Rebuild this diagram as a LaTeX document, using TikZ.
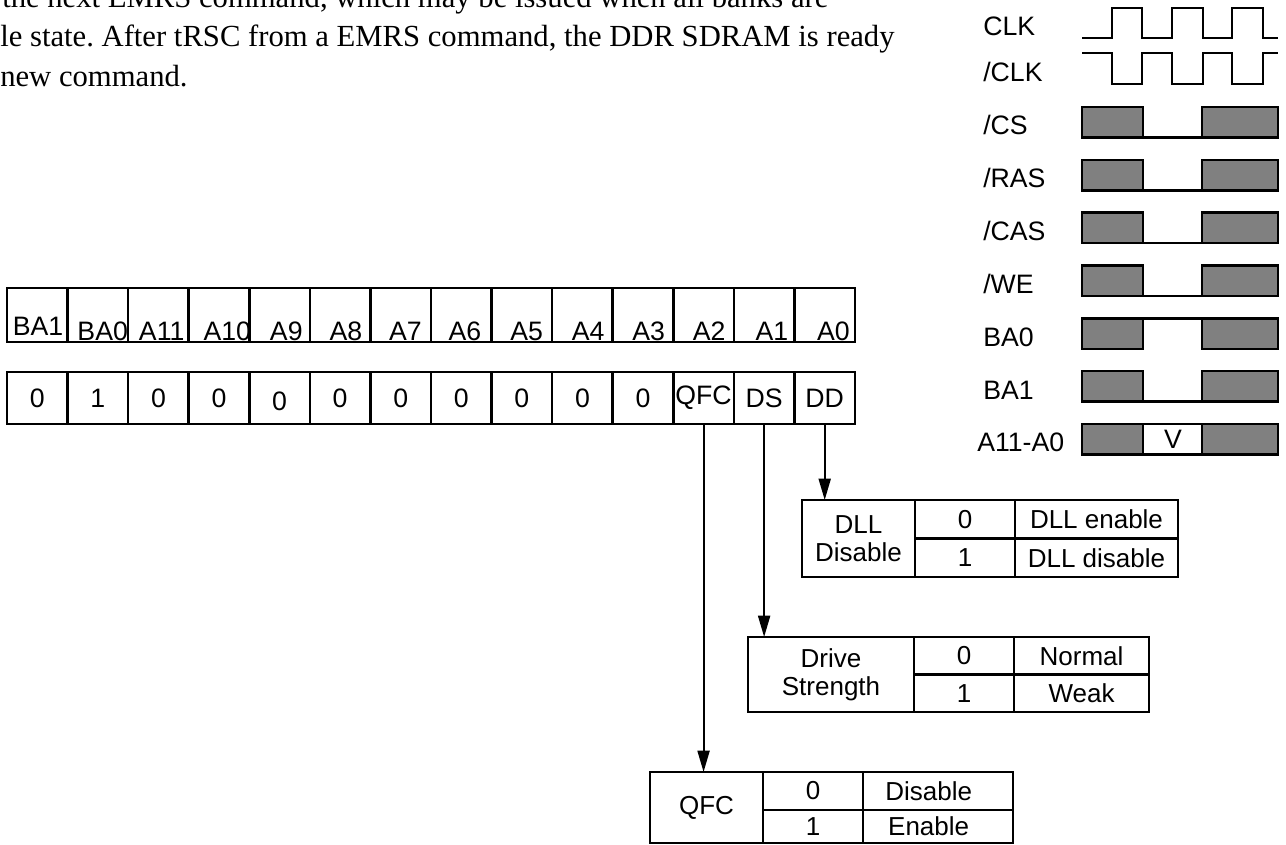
\documentclass[tikz,border=0pt]{standalone}
\usepackage{fontspec}
\setmainfont{Liberation Serif}
\newfontfamily\arialf{Liberation Sans}
\usetikzlibrary{positioning,arrows.meta}
\frenchspacing

\begin{document}
\begin{tikzpicture}[
  x=0.75pt, y=-0.75pt,
  lbl/.style={font=\arialf\fontsize{20}{22}\selectfont, inner sep=0pt},
  cell/.style={draw, line width=1.9pt, outer sep=0pt, inner sep=0pt,
    minimum width=60.57*0.75pt},
  tcell/.style={draw, line width=1.9pt, outer sep=0pt, inner sep=0pt,
    anchor=north west, align=center,
    font=\arialf\fontsize{19.5}{21}\selectfont},
  busy/.style={draw, line width=1.9pt, fill=gray},
  wave/.style={line width=1.8pt},
  arr/.style={-{Triangle[length=16pt,width=9pt]}, line width=1.5pt},
  para/.style={font=\fontsize{23}{30}\selectfont, inner sep=0pt,
    anchor=base west}
]
\useasboundingbox (0,0) rectangle (1286,845);
\clip (0,0) rectangle (1286,845);

% Text above
\node[para] (txt1) at (2,8) {the next EMRS command, which may be issued when all banks are};
\node[para] (txt2) at (0,47) {le state. After tRSC from a EMRS command, the DDR SDRAM is ready};
\node[para] (txt3) at (0,87) {new command.};

% Register bits (top row)
\foreach \i/\lab/\gap/\yb in {1/BA1/4/335, 2/BA0/0/340, 3/A11/4/340,
  4/A10/-2/340, 5/A9/7/340, 6/A8/8/340, 7/A7/9/340, 8/A6/10/340,
  9/A5/9/340, 10/A4/8/340, 11/A3/8/340, 12/A2/8/340, 13/A1/6/340,
  14/A0/5/340} {
  \node[cell, minimum height=54*0.75pt] (t\i) at ({7+60.57*(\i-0.5)},315) {};
  \node[lbl, anchor=base east] (tl\i) at ({7+60.57*\i-\gap},\yb) {\lab};
}

% Register values (bottom row)
\foreach \i/\val/\dy in {1/0/0, 2/1/0, 3/0/0, 4/0/0, 5/0/-2.25, 6/0/0,
  7/0/0, 8/0/0, 9/0/0, 10/0/0, 11/0/0, 12/QFC/0, 13/DS/0, 14/DD/0} {
  \node[cell, minimum height=52*0.75pt] (b\i) at ({7+60.57*(\i-0.5)},398) {};
  \node[lbl] (bv\i) at ([yshift=\dy pt]b\i.center) {\val};
}

% DLL table
\node[tcell, minimum width=113*0.75pt, minimum height=77*0.75pt]
  (dll0) at (802,500) {DLL\\Disable};
\node[tcell, minimum width=100*0.75pt, minimum height=38.5*0.75pt]
  (dll1) at (dll0.north east) {0};
\node[tcell, minimum width=163*0.75pt, minimum height=38.5*0.75pt]
  (dll2) at (dll1.north east) {DLL enable};
\node[tcell, minimum width=100*0.75pt, minimum height=38.5*0.75pt]
  (dll3) at (dll1.south west) {1};
\node[tcell, minimum width=163*0.75pt, minimum height=38.5*0.75pt]
  (dll4) at (dll3.north east) {DLL disable};

% Drive strength table
\node[tcell, minimum width=166*0.75pt, minimum height=75*0.75pt]
  (drv0) at (748,637) {Drive\\Strength};
\node[tcell, minimum width=100*0.75pt, minimum height=37.5*0.75pt]
  (drv1) at (drv0.north east) {0};
\node[tcell, minimum width=135*0.75pt, minimum height=37.5*0.75pt]
  (drv2) at (drv1.north east) {Normal};
\node[tcell, minimum width=100*0.75pt, minimum height=37.5*0.75pt]
  (drv3) at (drv1.south west) {1};
\node[tcell, minimum width=135*0.75pt, minimum height=37.5*0.75pt]
  (drv4) at (drv3.north east) {Weak};

% QFC table
\node[tcell, minimum width=113*0.75pt, minimum height=71*0.75pt]
  (qfc0) at (650,772) {QFC};
\node[tcell, minimum width=100*0.75pt, minimum height=38*0.75pt]
  (qfc1) at (qfc0.north east) {0};
\node[tcell, minimum width=150*0.75pt, minimum height=38*0.75pt]
  (qfc2) at (qfc1.north east) {\hspace*{-14pt}Disable};
\node[tcell, minimum width=100*0.75pt, minimum height=33*0.75pt]
  (qfc3) at (qfc1.south west) {1};
\node[tcell, minimum width=150*0.75pt, minimum height=33*0.75pt]
  (qfc4) at (qfc3.north east) {\hspace*{-14pt}Enable};

% Arrows from the bits
\draw[arr] (b14.south) -- (b14.south |- dll0.north);
\draw[arr] (b13.south) -- (b13.south |- drv0.north);
\draw[arr] (b12.south) -- (b12.south |- qfc0.north);

% Clock waveforms
\node[lbl, anchor=base west] (lclk) at (983,36) {CLK};
\node[lbl, anchor=base west] (lnclk) at (983,82) {/CLK};
\draw[wave] (1082,38) -| (1112,8) -| (1142,38) -| (1172,8) -| (1203,38)
  -| (1232,8) -| (1263,38) -- (1278,38);
\draw[wave] (1082,53) -| (1112,84) -| (1142,53) -| (1172,84) -| (1203,53)
  -| (1232,84) -| (1263,53) -- (1278,53);

% Command signals
\foreach \i/\lx/\sig in {0/983/{/CS}, 1/983/{/RAS}, 2/983/{/CAS},
  3/983/{/WE}, 4/983/BA0, 5/983/BA1, 6/977/A11-A0} {
  \pgfmathsetmacro\yt{107+52.83*\i}
  \pgfmathsetmacro\yb{\yt+30.5}
  \draw[busy] (1082,\yt) rectangle (1143,\yb);
  \draw[busy] (1202,\yt) rectangle (1278,\yb);
  \node[lbl, anchor=base west] (sig\i) at (\lx,\yt+28) {\sig};
}
% low level
\foreach \i in {0,1,2,3,5,6}
  \draw[wave] (1143,{107+52.83*\i+30.5}) -- (1202,{107+52.83*\i+30.5});
% high level
\foreach \i in {4,6}
  \draw[wave] (1143,{107+52.83*\i}) -- (1202,{107+52.83*\i});
\node[lbl] (vv) at (1173,439) {V};
\end{tikzpicture}
\end{document}
